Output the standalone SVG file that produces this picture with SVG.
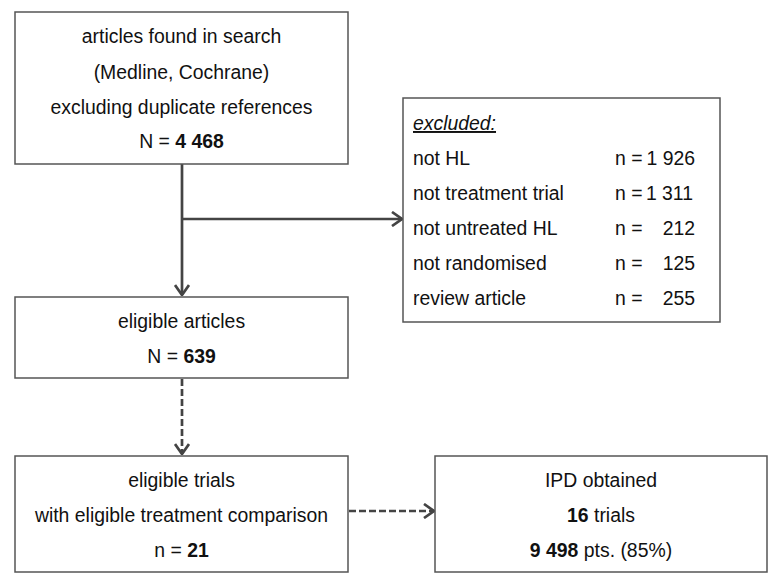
<svg xmlns="http://www.w3.org/2000/svg" width="776" height="582" viewBox="0 0 776 582">
<style>
.box{fill:#fff;stroke:#555;stroke-width:1.5}
text{font-family:"Liberation Sans",Arial,sans-serif;font-size:19.4px;fill:#111}
.c{text-anchor:middle}
.r{text-anchor:end}
.b{font-weight:bold}
.ln{fill:none;stroke:#444;stroke-width:2.7}
.d{stroke-dasharray:7 3}
</style>
<defs>
<marker id="ah" viewBox="0 0 12 16" refX="11" refY="8" markerWidth="12" markerHeight="16" markerUnits="userSpaceOnUse" orient="auto">
<path d="M1,1 L11,8 L1,15" fill="none" stroke="#444" stroke-width="2.7"/>
</marker>
</defs>
<rect width="776" height="582" fill="#fff"/>
<g id="connectors">
<path class="ln" d="M182,164 V295" marker-end="url(#ah)"/>
<path class="ln" d="M182,219 H402" marker-end="url(#ah)"/>
<path class="ln d" d="M182,379 V454" marker-end="url(#ah)"/>
<path class="ln d" d="M349,511 H434" marker-end="url(#ah)"/>
</g>
<g id="search">
<rect class="box" x="15" y="12" width="333" height="152"/>
<text class="c" x="181.5" y="43">articles found in search</text>
<text class="c" x="181.5" y="79">(Medline, Cochrane)</text>
<text class="c" x="181.5" y="114">excluding duplicate references</text>
<text class="c" x="181.5" y="148">N = <tspan class="b">4 468</tspan></text>
</g>
<g id="excluded">
<rect class="box" x="403" y="98" width="317" height="224"/>
<text x="413" y="130" font-style="italic" text-decoration="underline">excluded:</text>
<text x="413" y="165">not HL</text>
<text x="413" y="200">not treatment trial</text>
<text x="413" y="235">not untreated HL</text>
<text x="413" y="270">not randomised</text>
<text x="413" y="305">review article</text>
<text x="615" y="165">n =</text>
<text x="615" y="200">n =</text>
<text x="615" y="235">n =</text>
<text x="615" y="270">n =</text>
<text x="615" y="305">n =</text>
<text class="r" x="695" y="165">1 926</text>
<text class="r" x="693" y="200">1 311</text>
<text class="r" x="695" y="235">212</text>
<text class="r" x="695" y="270">125</text>
<text class="r" x="695" y="305">255</text>
</g>
<g id="eligible-articles">
<rect class="box" x="15" y="297" width="333" height="81"/>
<text class="c" x="181.5" y="328">eligible articles</text>
<text class="c" x="181.5" y="363">N = <tspan class="b">639</tspan></text>
</g>
<g id="eligible-trials">
<rect class="box" x="15" y="456" width="333" height="116"/>
<text class="c" x="181.5" y="487">eligible trials</text>
<text class="c" x="181.5" y="522">with eligible treatment comparison</text>
<text class="c" x="181.5" y="557">n = <tspan class="b">21</tspan></text>
</g>
<g id="ipd">
<rect class="box" x="435" y="456" width="332" height="116"/>
<text class="c" x="601" y="487">IPD obtained</text>
<text class="c" x="601" y="522"><tspan class="b">16</tspan> trials</text>
<text class="c" x="601" y="557"><tspan class="b">9 498</tspan> pts. (85%)</text>
</g>
</svg>
